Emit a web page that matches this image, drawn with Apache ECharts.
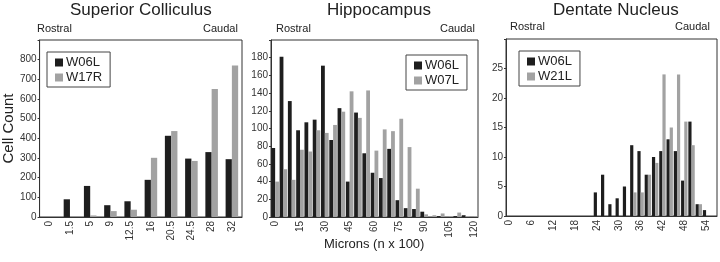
<!DOCTYPE html>
<html>
<head>
<meta charset="utf-8">
<script src="https://cdn.jsdelivr.net/npm/echarts@6/dist/echarts.min.js"></script>
<style>
  html, body { margin: 0; padding: 0; background: #fff; }
  #chart { width: 720px; height: 262px; }
</style>
</head>
<body>
<div id="chart"></div>
<script>
// Superior Colliculus
var scCats = ['0', '1.5', '5', '9', '12.5', '16', '20.5', '24.5', '28', '32'];
var scW06L = [0, 90, 158, 60, 80, 189, 413, 297, 330, 294];
var scW17R = [0, 0, 8, 30, 37, 301, 437, 285, 651, 770];

// Hippocampus
var hipCats = ['0', '5', '10', '15', '20', '25', '30', '35', '40', '45', '50', '55', '60',
  '65', '70', '75', '80', '85', '90', '95', '100', '105', '110', '115', '120'];
var hipW06L = [78, 181, 131, 98, 107, 110, 171, 87, 123, 40, 118, 72, 50, 44, 77, 19, 10, 9, 6, 0, 1, 0, 1, 2, 0];
var hipW07L = [40, 54, 42, 76, 74, 98, 95, 104, 119, 142, 112, 143, 75, 99, 97, 111, 79, 32, 3, 2, 4, 1, 5, 1, 1];

// Dentate Nucleus
var dnCats = ['0', '2', '4', '6', '8', '10', '12', '14', '16', '18', '20', '22', '24', '26', '28',
  '30', '32', '34', '36', '38', '40', '42', '44', '46', '48', '50', '52', '54', '56'];
var dnW06L = [0, 0, 0, 0, 0, 0, 0, 0, 0, 0, 0, 0, 4, 7, 2, 3, 5, 12, 11, 7, 10, 11, 13, 11, 6, 16, 2, 1, 0];
var dnW21L = [0, 0, 0, 0, 0, 0, 0, 0, 0, 0, 0, 0, 0, 0, 0, 0, 0, 4, 4, 7, 9, 24, 15, 24, 16, 12, 2, 0, 0];

var FONT = 'Liberation Sans, Arial, sans-serif';
var DARK = '#1e1e1e';
var GRAY = '#a2a2a2';
var TXT = '#333';

function xAxis(idx, cats, labelInterval) {
  return {
    type: 'category', gridIndex: idx, data: cats,
    axisLine: { lineStyle: { color: '#333' } },
    axisTick: { interval: 0, length: 3, lineStyle: { color: '#333' } },
    axisLabel: {
      interval: labelInterval, rotate: 90, fontSize: 10, color: TXT,
      fontFamily: FONT, margin: 4
    }
  };
}

function yAxis(idx, max, step) {
  return {
    type: 'value', gridIndex: idx, min: 0, max: max, interval: step,
    axisLine: { show: true, lineStyle: { color: '#333' } },
    axisTick: { show: true, length: 2, lineStyle: { color: '#333' } },
    splitLine: { show: false },
    axisLabel: {
      fontSize: 10, color: TXT, fontFamily: FONT, margin: 3,
      formatter: function (v) { return v === max ? '' : v; }
    }
  };
}

function bar(name, idx, data, color, catGap) {
  return {
    type: 'bar', name: name, xAxisIndex: idx, yAxisIndex: idx, data: data,
    itemStyle: { color: color }, barGap: '0%', barCategoryGap: catGap,
    animation: false
  };
}

function legend(left, top, names) {
  return {
    left: left, top: top, orient: 'vertical', data: names,
    icon: 'rect', itemWidth: 8, itemHeight: 8, itemGap: 2,
    borderColor: '#444', borderWidth: 1, padding: [4, 8, 3, 8],
    textStyle: { fontSize: 13, color: '#222', fontFamily: FONT, padding: [0, 0, 0, -2] },
    selectedMode: false
  };
}

function txt(x, y, s, size) {
  return {
    type: 'text', left: x, top: y,
    style: { text: s, fontSize: size, fill: '#222', fontFamily: FONT }
  };
}

var yAxes = [yAxis(0, 900, 100), yAxis(1, 200, 20), yAxis(2, 30, 5)];
yAxes[0].name = 'Cell Count';
yAxes[0].nameLocation = 'middle';
yAxes[0].nameRotate = 90;
yAxes[0].nameGap = 22;
yAxes[0].nameTextStyle = { fontSize: 15, color: '#222', fontFamily: FONT };

var chart = echarts.init(document.getElementById('chart'));
chart.setOption({
  animation: false,
  grid: [
    { left: 34, top: 40, width: 208, height: 177, show: true, borderColor: '#333', borderWidth: 1 },
    { left: 271, top: 40, width: 207, height: 177, show: true, borderColor: '#333', borderWidth: 1 },
    { left: 506, top: 39, width: 211, height: 177, show: true, borderColor: '#333', borderWidth: 1 }
  ],
  xAxis: [xAxis(0, scCats, 0), xAxis(1, hipCats, 2), xAxis(2, dnCats, 2)],
  yAxis: yAxes,
  legend: [
    legend(47, 52, ['W06L', 'W17R']),
    legend(406, 55, ['W06L', 'W07L']),
    legend(519, 51, ['W06L', 'W21L'])
  ],
  series: [
    bar('W06L', 0, scW06L, DARK, '38%'),
    bar('W17R', 0, scW17R, GRAY, '38%'),
    bar('W06L', 1, hipW06L, DARK, '8%'),
    bar('W07L', 1, hipW07L, GRAY, '8%'),
    bar('W06L', 2, dnW06L, DARK, '12%'),
    bar('W21L', 2, dnW21L, GRAY, '12%')
  ],
  graphic: [
    txt(70, 2, 'Superior Colliculus', 17),
    txt(327, 2, 'Hippocampus', 17),
    txt(553, 2, 'Dentate Nucleus', 17),
    txt(37, 23, 'Rostral', 11),
    txt(203, 23, 'Caudal', 11),
    txt(276, 23, 'Rostral', 11),
    txt(440, 23, 'Caudal', 11),
    txt(510, 21, 'Rostral', 11),
    txt(675, 21, 'Caudal', 11),
    txt(324, 238, 'Microns (n x 100)', 13)
  ]
});
</script>
</body>
</html>
